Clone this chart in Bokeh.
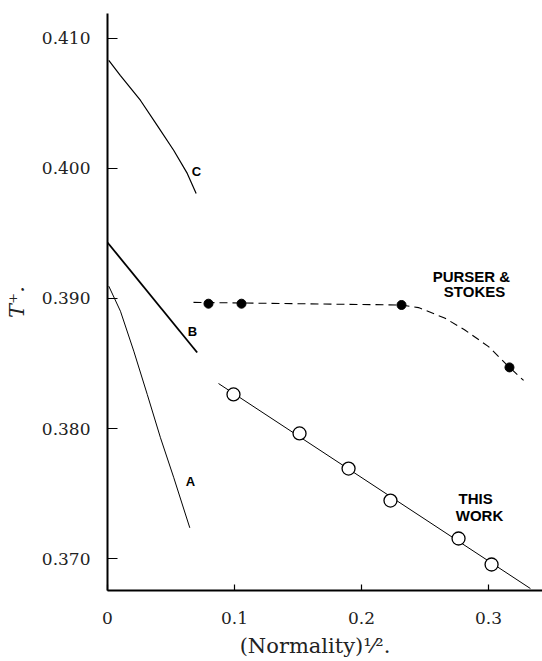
from bokeh.plotting import figure
from bokeh.models import Range1d, FixedTicker, Label
from bokeh.embed import file_html
from bokeh.resources import INLINE

# ---- data ----
curve_c_x = [0.001, 0.0102, 0.026, 0.0391, 0.0522, 0.0628, 0.0698]
curve_c_y = [0.40831, 0.40715, 0.40523, 0.40331, 0.40138, 0.39962, 0.39808]

curve_b_x = [0.0, 0.0706]
curve_b_y = [0.39431, 0.38585]

curve_a_x = [0.001, 0.0102, 0.0207, 0.0313, 0.0417, 0.0522, 0.0648]
curve_a_y = [0.39095, 0.38902, 0.38595, 0.38262, 0.37929, 0.37621, 0.37236]

purser_pts_x = [0.0795, 0.1055, 0.2315, 0.3165]
purser_pts_y = [0.3896, 0.3896, 0.3895, 0.3847]
purser_curve_x = [0.0677, 0.2315, 0.2449, 0.2654, 0.2811, 0.3000, 0.3165, 0.3276]
purser_curve_y = [0.3897, 0.3895, 0.3893, 0.3885, 0.3876, 0.3863, 0.3847, 0.3837]

this_work_x = [0.0992, 0.1512, 0.1898, 0.2228, 0.2764, 0.3024]
this_work_y = [0.38262, 0.37962, 0.37692, 0.37446, 0.37154, 0.36954]
this_work_line_x = [0.0874, 0.3330]
this_work_line_y = [0.38346, 0.36769]

x_ticks = [0, 0.1, 0.2, 0.3]
x_tick_labels = {0: "0", 0.1: "0.1", 0.2: "0.2", 0.3: "0.3"}
y_ticks = [0.370, 0.380, 0.390, 0.400, 0.410]
y_tick_labels = {0.37: "0.370", 0.38: "0.380", 0.39: "0.390", 0.4: "0.400", 0.41: "0.410"}

p = figure(width=542, height=661, output_backend="svg", toolbar_location=None,
           x_range=Range1d(0, 0.3425), y_range=Range1d(0.36754, 0.41192),
           min_border_left=107, min_border_right=0, min_border_top=13, min_border_bottom=71)
p.outline_line_color = None
p.grid.visible = False
p.background_fill_color = "white"
p.border_fill_color = "white"

serif = "DejaVu Serif"
for ax in (p.xaxis[0], p.yaxis[0]):
    ax.axis_line_width = 2
    ax.axis_line_color = "black"
    ax.major_tick_line_color = "black"
    ax.major_tick_line_width = 1.2
    ax.minor_tick_line_color = None
    ax.major_tick_out = 0
    ax.major_label_text_font = serif
    ax.major_label_text_font_size = "17px"
    ax.major_label_text_color = "#222222"
    ax.axis_label_text_font = serif
    ax.axis_label_text_color = "#222222"

p.xaxis.ticker = FixedTicker(ticks=x_ticks)
p.xaxis.major_label_overrides = x_tick_labels
p.xaxis.major_tick_in = 6
p.xaxis.major_label_standoff = 21
p.xaxis.axis_label = "(Normality)\u00b9\u2044\u00b2.\u00a0\u00a0\u00a0"
p.xaxis.axis_label_text_font_size = "21px"
p.xaxis.axis_label_text_font_style = "normal"
p.xaxis.axis_label_standoff = 7

p.yaxis.ticker = FixedTicker(ticks=y_ticks)
p.yaxis.major_label_overrides = y_tick_labels
p.yaxis.major_tick_in = 10
p.yaxis.major_label_standoff = 17
p.yaxis.axis_label = "T\u207a."
p.yaxis.axis_label_text_font_size = "21px"
p.yaxis.axis_label_text_font_style = "italic"
p.yaxis.axis_label_standoff = 10

p.line(curve_c_x, curve_c_y, line_color="black", line_width=1.2)
p.line(curve_b_x, curve_b_y, line_color="black", line_width=1.8)
p.line(curve_a_x, curve_a_y, line_color="black", line_width=1.0)

p.line(purser_curve_x, purser_curve_y, line_color="black", line_width=1.1, line_dash="8 5")
p.scatter(purser_pts_x, purser_pts_y, size=9, fill_color="black", line_color="black")

p.line(this_work_line_x, this_work_line_y, line_color="black", line_width=1.0)
p.scatter(this_work_x, this_work_y, size=13, fill_color="white", line_color="black", line_width=1.3)

lab_font = "Liberation Sans"
def add_label(x, y, t, size="13px"):
    p.add_layout(Label(x=x, y=y, text=t, text_font=lab_font, text_font_size=size,
                       text_font_style="bold", text_align="center", text_baseline="middle",
                       text_color="black"))

add_label(0.0701, 0.39977, "C")
add_label(0.0669, 0.38746, "B")
add_label(0.0654, 0.37592, "A")
add_label(0.2882, 0.39169, "PURSER  &", "15px")
add_label(0.2890, 0.39054, "STOKES", "15px")
add_label(0.2898, 0.37462, "THIS", "15px")
add_label(0.2929, 0.37331, "WORK", "15px")

open("out.html", "w").write(file_html(p, INLINE))
